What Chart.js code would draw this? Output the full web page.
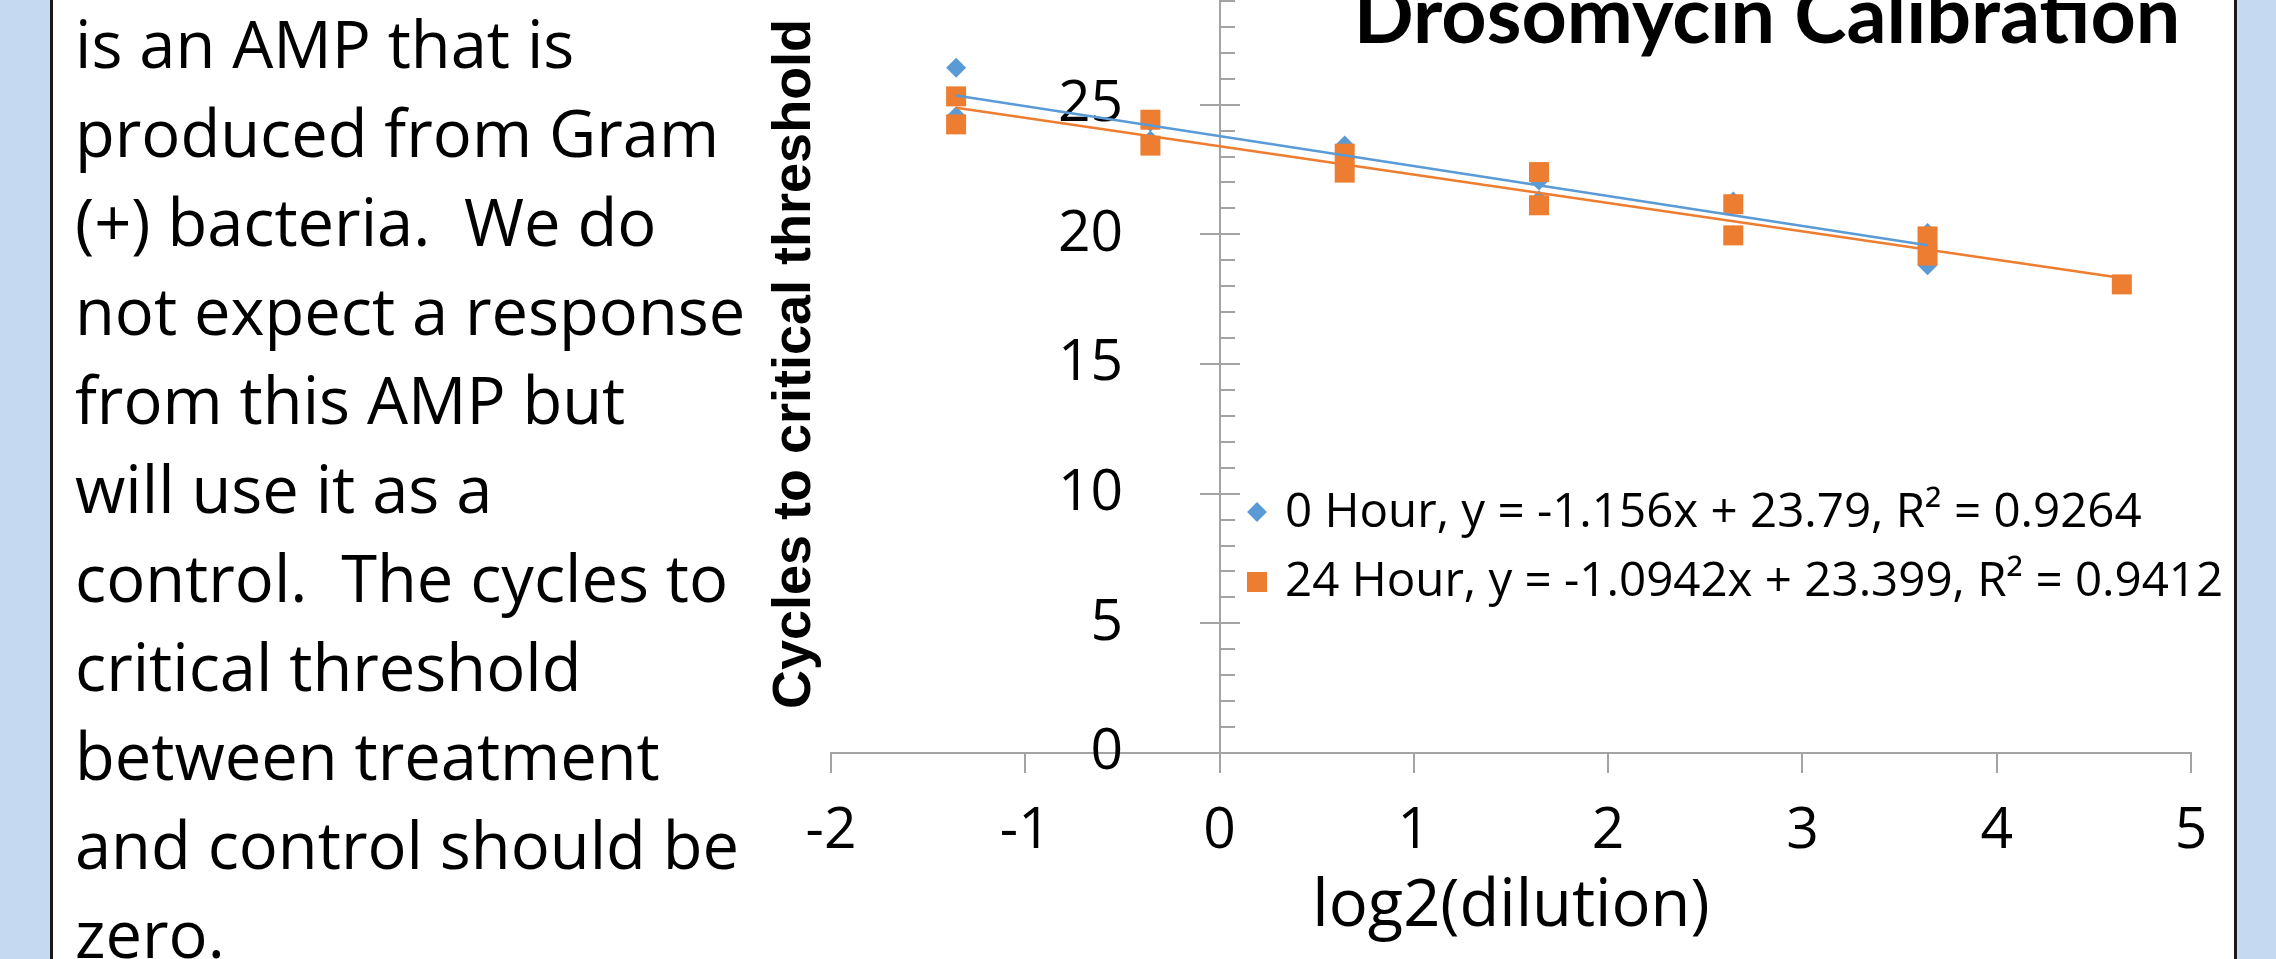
<!DOCTYPE html>
<html>
<head>
<meta charset="utf-8">
<title>Drosomycin Calibration</title>
<script src="https://cdn.jsdelivr.net/npm/chart.js@4.4.1/dist/chart.umd.min.js"></script>
<style>
  html, body { margin: 0; padding: 0; }
  body {
    width: 2276px; height: 959px; overflow: hidden; position: relative;
    background: #fff; font-family: 'Open Sans', sans-serif; color: #000;
  }
  .strip { position: absolute; top: 0; bottom: 0; background: #c5d9f1; }
  #strip-left { left: 0; width: 50px; border-right: 3px solid #1a1a1a; }
  #strip-right { left: 2234px; right: 0; border-left: 3px solid #1a1a1a; }
  #notes {
    position: absolute; left: 75px; top: -1px;
    font-size: 65px; line-height: 89px; white-space: pre;
  }
  #chart-box { position: absolute; left: 700px; top: -100px; width: 1534px; height: 1059px; }
  #chart-title {
    position: absolute; left: 1267px; width: 1000px; top: -27px;
    text-align: center; font: bold 79px Lato, sans-serif; line-height: 79px; white-space: nowrap;
  }
  .legend-text { position: absolute; left: 1285px; font-size: 47.5px; line-height: 65px; white-space: pre; }
  .legend-marker { position: absolute; }
</style>
</head>
<body>
<div class="strip" id="strip-left"></div>
<div class="strip" id="strip-right"></div>

<div id="notes">is an AMP that is
produced from Gram
(+) bacteria.  We do
not expect a response
from this AMP but
will use it as a
control.  The cycles to
critical threshold
between treatment
and control should be
zero.</div>

<div id="chart-box"><canvas id="calib" width="1534" height="1059"></canvas></div>
<div id="chart-title">Drosomycin Calibration</div>
<div id="legend"></div>

<script>
// Ct readings per dilution, 0 h samples
const hour0X = [-1.356, -1.356, -0.356, -0.356, 0.644, 0.644, 1.644, 1.644, 2.644, 2.644, 3.644, 3.644];
const hour0Y = [26.42, 24.55, 24.33, 23.62, 23.43, 22.70, 22.08, 21.31, 21.27, 19.96, 20.05, 18.81];

// Ct readings per dilution, 24 h samples
const hour24X = [-1.356, -1.356, -0.356, -0.356, 0.644, 0.644, 1.644, 1.644, 2.644, 2.644, 3.644, 3.644, 4.644];
const hour24Y = [25.32, 24.24, 24.42, 23.42, 23.11, 22.38, 22.40, 21.12, 21.16, 19.96, 19.92, 19.18, 18.07];

// linear fits (as reported)
const seriesNames = ['0 Hour', '24 Hour'];
const fitSlope = [-1.156, -1.0942];
const fitIntercept = [23.79, 23.399];
const fitR2 = [0.9264, 0.9412];

const xTicks = [-2, -1, 0, 1, 2, 3, 4, 5];
const yTicks = [0, 5, 10, 15, 20, 25, 30];

const BLUE = '#5b9bd5';
const ORANGE = '#ed7d31';
const AXIS = '#a3a3a3';

const toPoints = (xs, ys) => xs.map((x, i) => ({ x, y: ys[i] }));

// trendline drawn across the x-range of its own series
const fitLine = (k, xs) => {
  const lo = Math.min(...xs), hi = Math.max(...xs);
  return [lo, hi].map(x => ({ x, y: fitSlope[k] * x + fitIntercept[k] }));
};

// legend sits inside the plot, next to the vertical axis
const legendRows = [
  { top: 476, marker: `left:1250px;top:505px;width:14px;height:14px;background:${BLUE};transform:rotate(45deg)` },
  { top: 545, marker: `left:1247px;top:572px;width:20px;height:20px;background:${ORANGE}` }
];
document.getElementById('legend').innerHTML = legendRows.map((r, k) => `
  <div class="legend-marker" style="${r.marker}"></div>
  <div class="legend-text" style="top:${r.top}px">${seriesNames[k]}, y = ${fitSlope[k]}x + ${fitIntercept[k]}, R² = ${fitR2[k]}</div>`).join('');

// vertical axis sits at x = 0: major ticks cross it, minor ticks point inward
const crossTicks = {
  id: 'crossTicks',
  beforeDatasetsDraw(chart) {
    const { ctx, scales: { x, y } } = chart;
    const x0 = Math.round(x.getPixelForValue(0));
    ctx.save();
    ctx.strokeStyle = AXIS;
    ctx.lineWidth = 2;
    ctx.beginPath();
    for (let v = y.min; v <= y.max; v++) {
      const py = Math.round(y.getPixelForValue(v));
      const major = v % yTicks[1] === 0;
      ctx.moveTo(major ? x0 - 20 : x0, py);
      ctx.lineTo(x0 + (major ? 20 : 15), py);
    }
    ctx.stroke();
    ctx.restore();
  }
};

const tickFont = { family: 'Open Sans', size: 57 };

new Chart(document.getElementById('calib'), {
  type: 'scatter',
  data: {
    datasets: [
      {
        label: seriesNames[1] + ' fit', data: fitLine(1, hour24X), showLine: true,
        borderColor: ORANGE, borderWidth: 2.5, pointRadius: 0, order: 0
      },
      {
        label: seriesNames[0] + ' fit', data: fitLine(0, hour0X), showLine: true,
        borderColor: BLUE, borderWidth: 2.5, pointRadius: 0, order: 1
      },
      {
        label: seriesNames[1], data: toPoints(hour24X, hour24Y),
        pointStyle: 'rect', pointRadius: 14.14, pointBackgroundColor: ORANGE,
        pointBorderWidth: 0, order: 2
      },
      {
        label: seriesNames[0], data: toPoints(hour0X, hour0Y),
        pointStyle: 'rectRot', pointRadius: 10, pointBackgroundColor: BLUE,
        pointBorderWidth: 0, order: 3
      }
    ]
  },
  options: {
    responsive: false,
    animation: false,
    events: [],
    layout: { padding: { top: 75, right: 43, bottom: 0, left: 0 } },
    plugins: { legend: { display: false }, tooltip: { enabled: false } },
    scales: {
      x: {
        type: 'linear', min: xTicks[0], max: xTicks[xTicks.length - 1],
        afterBuildTicks: s => { s.ticks = xTicks.map(v => ({ value: v })); },
        ticks: { font: tickFont, color: '#000', padding: 25, maxRotation: 0, autoSkip: false },
        grid: {
          color: c => (c.tick && c.tick.value === 0 ? AXIS : 'rgba(0,0,0,0)'),
          tickColor: AXIS, lineWidth: 2, tickLength: 20
        },
        border: { display: true, color: AXIS, width: 2 },
        title: {
          display: true, text: 'log2(dilution)', color: '#000',
          font: { family: 'Open Sans', size: 65 }, padding: { top: 0, bottom: 13 }
        },
        afterFit: s => { s.height = 206; }
      },
      y: {
        type: 'linear', position: 'left', min: yTicks[0], max: yTicks[yTicks.length - 1],
        // labels are mirrored into the plot so they end just left of the x = 0 axis
        ticks: { stepSize: yTicks[1], mirror: true, crossAlign: 'far', padding: 227, font: tickFont, color: '#000' },
        grid: { display: false, drawTicks: false },
        border: { display: false },
        title: {
          display: true, text: 'Cycles to critical threshold', color: '#000',
          font: { family: 'Liberation Sans', size: 54, weight: 'bold' }, padding: { top: 63, bottom: 0 }
        },
        afterFit: s => {
          s.width = 131;
          // the label padding is horizontal only here; keep it out of the vertical layout
          s.paddingTop = 0;
          s.paddingBottom = 0;
        }
      }
    }
  },
  plugins: [crossTicks]
});
</script>
</body>
</html>
